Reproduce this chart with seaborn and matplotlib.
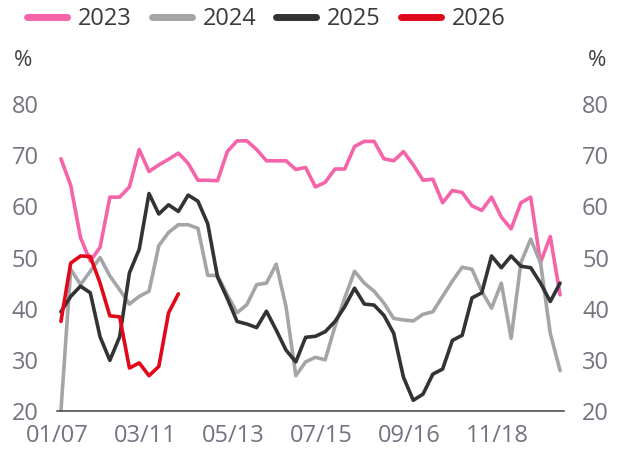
import pandas as pd
import numpy as np
import matplotlib
matplotlib.use('Agg')
import matplotlib.pyplot as plt
from matplotlib.lines import Line2D
import seaborn as sns

# Данные по неделям (значения в %)
y2023 = [69.3, 64.1, 53.9, 49.3, 52.0, 61.8, 61.8, 63.8, 71.1, 66.8,
         68.1, 69.2, 70.4, 68.4, 65.1, 65.1, 65.0, 70.7, 72.8, 72.8,
         71.1, 68.9, 68.9, 68.9, 67.2, 67.6, 63.8, 64.7, 67.3, 67.3,
         71.7, 72.7, 72.7, 69.3, 68.9, 70.7, 68.1, 65.1, 65.3, 60.7,
         63.1, 62.7, 60.1, 59.2, 61.8, 57.9, 55.6, 60.7, 61.8, 49.0,
         54.1, 42.7]
y2024 = [20.0, 47.7, 44.7, 47.3, 50.0, 46.4, 43.7, 40.9, 42.4, 43.4,
         52.3, 54.9, 56.4, 56.4, 55.7, 46.5, 46.5, 42.7, 39.2, 40.8,
         44.7, 45.0, 48.7, 40.4, 26.9, 29.6, 30.5, 30.0, 36.5, 42.1,
         47.3, 45.0, 43.4, 41.1, 38.1, 37.8, 37.6, 38.9, 39.4, 42.4,
         45.4, 48.1, 47.7, 43.4, 40.1, 45.0, 34.2, 49.0, 53.6, 49.0,
         35.2, 27.9]
y2025 = [39.4, 42.4, 44.4, 43.1, 34.5, 29.9, 34.5, 47.0, 51.6, 62.5,
         58.5, 60.3, 59.0, 62.2, 61.0, 56.6, 46.2, 42.0, 37.5, 37.0,
         36.3, 39.5, 35.8, 31.9, 29.6, 34.4, 34.6, 35.5, 37.5, 40.4,
         44.0, 40.9, 40.7, 38.7, 35.2, 26.6, 22.1, 23.3, 27.2, 28.2,
         33.8, 34.8, 42.1, 43.1, 50.3, 48.0, 50.3, 48.3, 48.0, 45.0,
         41.4, 45.0]
y2026 = [37.5, 48.9, 50.3, 50.2, 45.0, 38.6, 38.4, 28.4, 29.4, 26.9,
         28.7, 39.2, 42.9]

years = ['2023', '2024', '2025', '2026']
colors = ['#F564A9', '#A3A5A7', '#333333', '#E1081A']
tick_labels = ['01/07', '03/11', '05/13', '07/15', '09/16', '11/18']

rows = []
for yr, vals in zip(years, [y2023, y2024, y2025, y2026]):
    for i, v in enumerate(vals):
        rows.append({'week': i, 'value': v, 'year': yr})
df = pd.DataFrame(rows)

sns.set_style('white')
plt.rcParams['font.family'] = ['Open Sans', 'DejaVu Sans']

fig = plt.figure(figsize=(6.19, 4.53), dpi=100)
ax = fig.add_axes([0.0921, 0.0927, 0.8190, 0.6777])

sns.lineplot(data=df, x='week', y='value', hue='year', hue_order=years,
             palette=dict(zip(years, colors)), linewidth=2.6, ax=ax,
             legend=False)

ax.set_xlim(-0.4, 51.4)
ax.set_ylim(20, 80)
ax.set_yticks(np.arange(20, 81, 10))
xt = list(np.arange(len(tick_labels)) * 9 - 0.4) + [51.4]
ax.set_xticks(xt)
ax.set_xticklabels(tick_labels + [''])
ax.set_xlabel('')
ax.set_ylabel('')

for s in ['top', 'left', 'right']:
    ax.spines[s].set_visible(False)
ax.spines['bottom'].set_color('#404040')
ax.spines['bottom'].set_linewidth(1.1)

ax.tick_params(axis='x', direction='in', length=8, width=1.1,
               color='#404040', labelsize=17, labelcolor='#737380', pad=9)
ax.tick_params(axis='y', length=0, labelsize=17, labelcolor='#737380',
               labelleft=True, labelright=True, pad=13)

fig.text(23 / 619, 1 - 60 / 453, '%', fontsize=16, color='#404040',
         ha='center', va='center')
fig.text(597 / 619, 1 - 60 / 453, '%', fontsize=16, color='#404040',
         ha='center', va='center')

handles = [Line2D([0], [0], color=c, lw=5, solid_capstyle='round')
           for c in colors]
fig.legend(handles, years, loc='center', bbox_to_anchor=(0.43, 0.958),
           ncol=4, frameon=False, fontsize=17, handlelength=1.7,
           handletextpad=0.45, columnspacing=0.85, labelcolor='#3a3a3a')

fig.savefig('out.png', dpi=100)
